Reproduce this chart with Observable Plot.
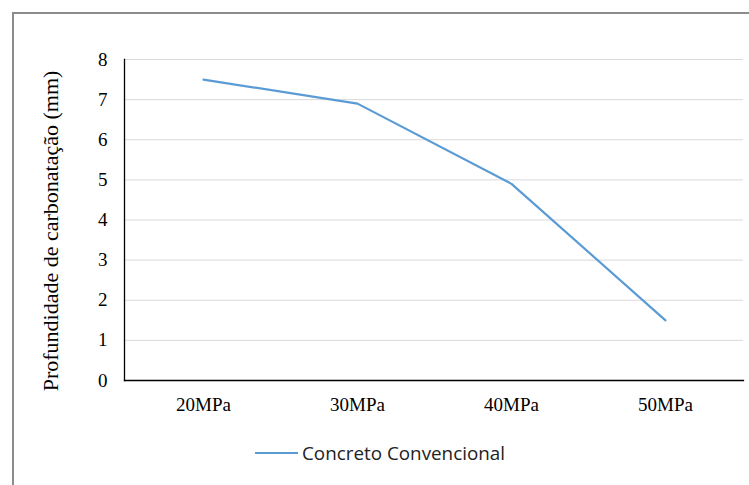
<!DOCTYPE html>
<html>
<head>
<meta charset="utf-8">
<script src="https://cdn.jsdelivr.net/npm/d3@7"></script>
<script src="https://cdn.jsdelivr.net/npm/@observablehq/plot@0.6"></script>
<style>
  html, body { margin: 0; padding: 0; background: #fff; }
  #wrap { position: relative; width: 749px; height: 485px; overflow: hidden; background: #fff; }
  #box { position: absolute; left: 12px; top: 12px; width: 800px; height: 600px; border: 2px solid #8c8c8c; box-sizing: border-box; }
  #chart { position: absolute; left: 0; top: 0; }
  #legend { position: absolute; left: 0; top: 0; }
</style>
</head>
<body>
<div id="wrap">
  <div id="box"></div>
  <div id="chart"></div>
  <svg id="legend" width="749" height="485"></svg>
</div>
<script>
// Carbonation depth by concrete strength class
const categories = ["20MPa", "30MPa", "40MPa", "50MPa"];
const depth = [7.5, 6.9, 4.9, 1.5];
const seriesName = "Concreto Convencional";
const yTicks = [0, 1, 2, 3, 4, 5, 6, 7, 8];
const yLabel = "Profundidade de carbonatação (mm)";
const lineColor = "#5b9bd5";

const rows = categories.map((c, i) => ({ strength: c, depth: depth[i] }));

const chart = Plot.plot({
  width: 749,
  height: 485,
  marginLeft: 124,
  marginRight: 6,
  marginTop: 59,
  marginBottom: 105,
  style: { fontFamily: "'Liberation Serif', 'Times New Roman', serif", fontSize: "22px", color: "#000", background: "transparent" },
  x: { type: "point", domain: categories, padding: 0.5 },
  y: { domain: [0, 8], ticks: yTicks },
  marks: [
    Plot.ruleY(yTicks.filter(t => t > 0), { stroke: "#d9d9d9", strokeWidth: 1, strokeOpacity: 1 }),
    Plot.axisX({ tickSize: 0, tickPadding: 17, label: null, fontSize: 19 }),
    Plot.axisY({ ticks: yTicks, tickSize: 0, tickPadding: 17, fontSize: 19, label: null }),
    // rotated y-axis title, sitting slightly below the frame's vertical center
    Plot.text([yLabel], {
      text: d => d, frameAnchor: "left", rotate: -90,
      textAnchor: "middle", lineAnchor: "middle",
      dx: -74, dy: 11, fontSize: 22, fill: "#000"
    }),
    Plot.frame({ anchor: "left", stroke: "#000", strokeWidth: 1.3 }),
    Plot.frame({ anchor: "bottom", stroke: "#000", strokeWidth: 1.3 }),
    Plot.line(rows, { x: "strength", y: "depth", stroke: lineColor, strokeWidth: 2.2 })
  ]
});
document.getElementById("chart").appendChild(chart);

// Legend below the plot
const legend = d3.select("#legend");
const item = legend.append("g").attr("transform", "translate(255,453)");
item.append("line").attr("x1", 0).attr("x2", 43).attr("y1", 0).attr("y2", 0)
  .attr("stroke", lineColor).attr("stroke-width", 2);
item.append("text").attr("x", 47).attr("y", 0).attr("dy", "0.35em")
  .attr("font-family", "'Open Sans', 'Noto Sans', sans-serif").attr("font-size", 19)
  .attr("textLength", 203).attr("lengthAdjust", "spacingAndGlyphs")
  .attr("fill", "#222").text(seriesName);
</script>
</body>
</html>
